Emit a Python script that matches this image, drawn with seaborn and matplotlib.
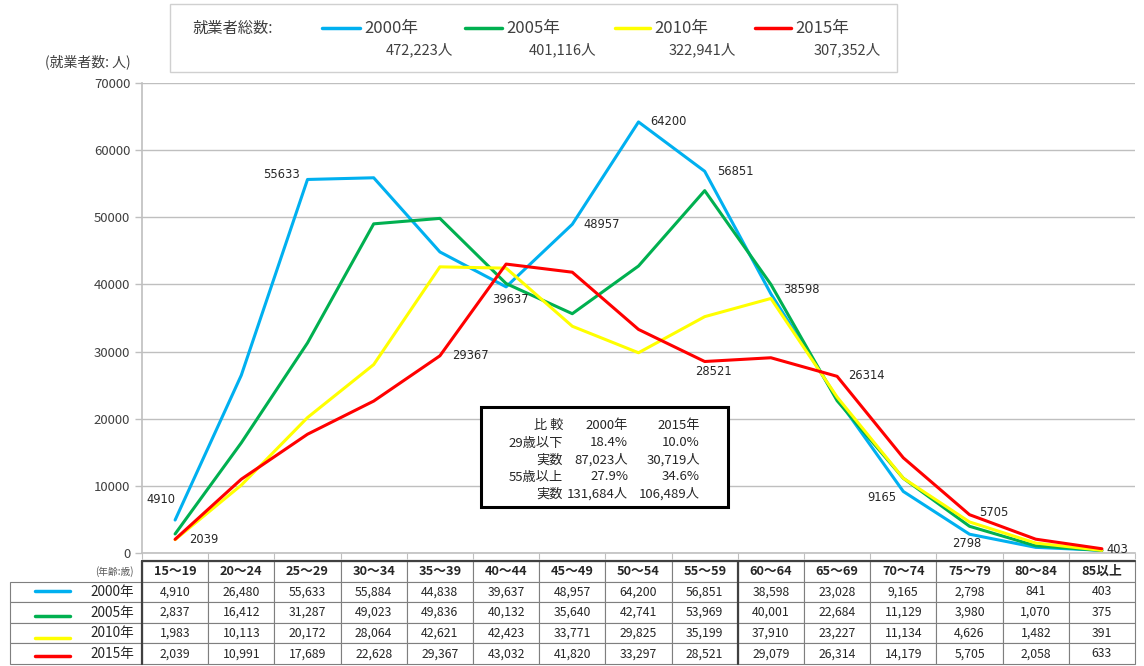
import numpy as np
import pandas as pd
import matplotlib.pyplot as plt
import seaborn as sns
from matplotlib.lines import Line2D
from matplotlib.patches import Rectangle

# 年齢階級別 就業者数
ages = ["15～19", "20～24", "25～29", "30～34", "35～39", "40～44", "45～49",
        "50～54", "55～59", "60～64", "65～69", "70～74", "75～79", "80～84", "85以上"]
years = ["2000年", "2005年", "2010年", "2015年"]
v2000 = [4910, 26480, 55633, 55884, 44838, 39637, 48957, 64200, 56851, 38598, 23028, 9165, 2798, 841, 403]
v2005 = [2837, 16412, 31287, 49023, 49836, 40132, 35640, 42741, 53969, 40001, 22684, 11129, 3980, 1070, 375]
v2010 = [1983, 10113, 20172, 28064, 42621, 42423, 33771, 29825, 35199, 37910, 23227, 11134, 4626, 1482, 391]
v2015 = [2039, 10991, 17689, 22628, 29367, 43032, 41820, 33297, 28521, 29079, 26314, 14179, 5705, 2058, 633]
totals = ["472,223人", "401,116人", "322,941人", "307,352人"]
colors = ["#00B0F0", "#00B050", "#FFFF00", "#FF0000"]

# 比較表
cmp_rows = [
    ["比 較", "2000年", "2015年"],
    ["29歳以下", "18.4%", "10.0%"],
    ["実数", "87,023人", "30,719人"],
    ["55歳以上", "27.9%", "34.6%"],
    ["実数", "131,684人", "106,489人"],
]

series = [v2000, v2005, v2010, v2015]
df = pd.DataFrame({
    "pos": np.tile(np.arange(len(ages)), len(years)),
    "count": np.concatenate(series),
    "year": np.repeat(years, len(ages)),
})

sns.set_style("white")
plt.rcParams['font.family'] = ['Noto Sans CJK JP', 'DejaVu Sans']

W, H = 1144, 666
fig = plt.figure(figsize=(W / 100, H / 100), dpi=100)
ax = fig.add_axes([142 / W, 1 - 553 / H, 993 / W, 470 / H])

sns.lineplot(data=df, x="pos", y="count", hue="year", hue_order=years,
             palette=colors, sort=False, linewidth=2.2, legend=False, ax=ax)

ax.set_xlim(-0.5, len(ages) - 0.5)
ax.set_ylim(0, 70000)
ax.set_yticks(range(0, 70001, 10000))
ax.tick_params(axis="y", labelsize=9.5, colors="#BFBFBF", labelcolor="#404040",
               direction="out", length=5, width=1, left=True)
ax.set_xticks(np.arange(len(ages) + 1) - 0.5)
ax.set_xticklabels([])
ax.tick_params(axis="x", colors="#BFBFBF", direction="out", length=4, bottom=True)
ax.set_xlabel("")
ax.set_ylabel("")
ax.yaxis.grid(True, color="#BFBFBF", lw=1)
ax.set_axisbelow(True)
for s in ["top", "right"]:
    ax.spines[s].set_visible(False)
for s in ["left", "bottom"]:
    ax.spines[s].set_color("#BFBFBF")
    ax.spines[s].set_linewidth(1.2)

fig.text(88 / W, 1 - 62 / H, "(就業者数: 人)", fontsize=10, color="#404040",
         ha="center", va="center")

# データラベル (index, ha, dx px, dy px)
lbl2000 = [(0, "center", -14, 21), (2, "right", -8, 5), (5, "center", 4, -13),
           (6, "left", 11, 0), (7, "left", 12, 0), (8, "left", 12, 0),
           (9, "left", 12, 4), (11, "right", -7, -6), (12, "center", -3, -9),
           (14, "left", 5, 1)]
lbl2015 = [(0, "left", 14, 0), (4, "left", 12, 0), (8, "center", 9, -10),
           (10, "left", 11, 1), (12, "left", 10, 2)]
for vals, lbls in [(v2000, lbl2000), (v2015, lbl2015)]:
    for i, ha, dx, dy in lbls:
        ax.annotate(str(vals[i]), xy=(i, vals[i]), xytext=(dx * 0.72, dy * 0.72),
                    textcoords="offset points", ha=ha, va="center",
                    fontsize=8.3, color="#262626", family="DejaVu Sans")

# 凡例ボックス
fig.add_artist(Rectangle((170 / W, 1 - 72 / H), 727 / W, 68 / H, transform=fig.transFigure,
                         facecolor="white", edgecolor="#D0D0D0", lw=1))
fig.text(192 / W, 1 - 28 / H, "就業者総数:", fontsize=11, color="#404040", va="center")
line_x = [(322, 360), (465, 502), (615, 650), (755, 791)]
tot_right = [453, 596, 736, 881]
for (x0, x1), yr, tot, xr, c in zip(line_x, years, totals, tot_right, colors):
    fig.add_artist(Line2D([x0 / W, x1 / W], [1 - 28 / H] * 2, color=c, lw=2.5,
                          transform=fig.transFigure))
    fig.text((x1 + 4) / W, 1 - 28 / H, yr, fontsize=12, color="#404040", va="center")
    fig.text(xr / W, 1 - 50 / H, tot, fontsize=10.5, color="#404040", va="center", ha="right")

# 比較ボックス
fig.add_artist(Rectangle((481 / W, 1 - 507 / H), 247 / W, 100 / H, transform=fig.transFigure,
                         facecolor="white", edgecolor="black", lw=2.2, zorder=5))
col_right = [563, 628, 700]
row_y = [425, 443, 460, 477, 494]
for ry, row in zip(row_y, cmp_rows):
    for xr, t in zip(col_right, row):
        fig.text(xr / W, 1 - ry / H, t, fontsize=9.5, color="#262626", ha="right",
                 va="center", zorder=6)

# データ表
header = ["(年齢:歳)"] + ages
body = []
for yr, vals in zip(years, series):
    body.append([yr] + [f"{v:,}" for v in vals])
colw = [132] + [993 / len(ages)] * len(ages)
tbl = ax.table(cellText=body, colLabels=header, colWidths=colw, cellLoc="center",
               bbox=[-132 / 993, -111 / 470, 1125 / 993, 103 / 470])
tbl.auto_set_font_size(False)
tbl.set_fontsize(8.8)
for (r, c), cell in tbl.get_celld().items():
    cell.set_edgecolor("#7F7F7F")
    cell.set_linewidth(0.8)
    cell.get_text().set_color("#262626")
    if r == 0:
        cell.get_text().set_weight("bold")
        cell.get_text().set_fontsize(9.2)
    if c == 0:
        cell._loc = "right"
        cell.PAD = 0.06
        cell.get_text().set_horizontalalignment("right")
        cell.get_text().set_fontsize(9.8)
    if r == 0 and c == 0:
        cell.visible_edges = "open"
        cell.get_text().set_fontsize(7)
        cell.get_text().set_weight("normal")
        cell.get_text().set_color("#595959")

# 太線 (15～19 の左、60～64 の左)
for xb in [0, 9]:
    xf = (142 + xb * 993 / len(ages)) / W
    fig.add_artist(Line2D([xf, xf], [1 - 664 / H, 1 - 561 / H], color="#404040", lw=1.6,
                          transform=fig.transFigure))
fig.add_artist(Line2D([142 / W, 1135 / W], [1 - 561 / H] * 2, color="#404040", lw=1.6,
                      transform=fig.transFigure))

# 表の凡例線
sw_y = [591, 616, 638, 656]
for y, c in zip(sw_y, colors):
    fig.add_artist(Line2D([35 / W, 70 / W], [1 - y / H] * 2, color=c, lw=2.5,
                          transform=fig.transFigure))

fig.savefig("out.png", dpi=100)
